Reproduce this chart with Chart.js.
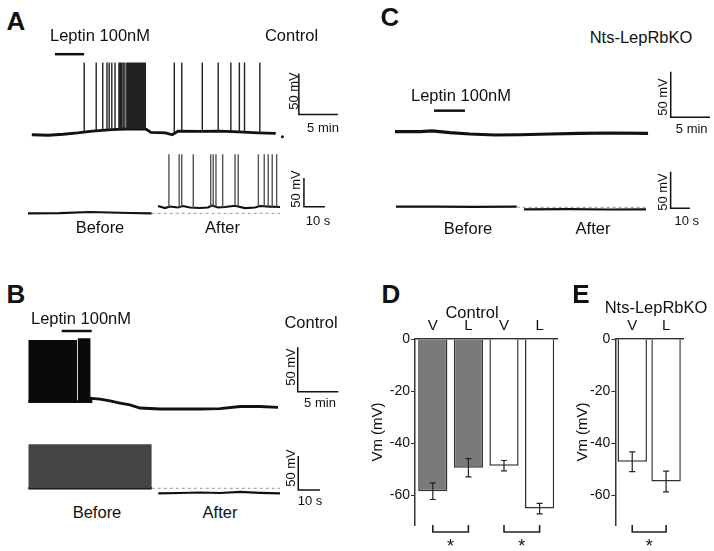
<!DOCTYPE html>
<html lang="en">
<head>
<meta charset="UTF-8" />
<title>Leptin recordings</title>
<script src="https://cdn.jsdelivr.net/npm/chart.js"></script>
<style>
  body { margin: 0; background: #fff; }
  #fig { position: relative; width: 714px; height: 551px; overflow: hidden; font-family: "Liberation Sans", Arial, sans-serif; color: #111; }
  #fig canvas { position: absolute; }
  .lbl { position: absolute; transform: translate(-50%, -50%); white-space: nowrap; line-height: 1; }
  .rot { transform: translate(-50%, -50%) rotate(-90deg); }
</style>
</head>
<body>
<div id="fig">
  <canvas id="aTop"></canvas>
  <canvas id="aBot"></canvas>
  <canvas id="bTop"></canvas>
  <canvas id="bBot"></canvas>
  <canvas id="cTop"></canvas>
  <canvas id="cBot"></canvas>
  <canvas id="dChart"></canvas>
  <canvas id="eChart"></canvas>
</div>

<script>
// ---- A: control, slow trace (min, mV) ----
const aTopT = [0, 2.13, 4.0, 5.88, 7.75, 10.25, 12.75, 14.63, 15.25, 17.13, 18.0, 18.75, 21.5, 24.0, 26.5, 29.0, 31.25];
const aTopV = [-55, -55.6, -54.4, -52.7, -50.5, -48.8, -47.7, -48.2, -52.2, -52.7, -55.0, -50.5, -51.0, -50.5, -51.6, -52.7, -53.3];
const aTopSpikes = [6.71, 8.25, 9.09, 9.63, 9.91, 10.25, 10.66,
  11.17, 11.33, 11.5, 11.71, 11.92, 12.17, 12.33, 12.46, 12.63, 12.79, 12.92, 13.08, 13.25, 13.42, 13.58, 13.71, 13.88, 14.04, 14.21, 14.38, 14.54,
  18.25, 19.21, 21.84, 23.88, 25.5, 26.59, 27.25, 29.21];
const aTopPeak = 33;
const aLeptin = [2.96, 6.71];

// ---- A: control, fast traces (s, mV) ----
const aBeforeT = [0, 15.2, 29.5, 39, 48.6, 58.9];
const aBeforeV = [-55.3, -54.8, -52.7, -53.6, -54.5, -55];
const aAfterT = [61.9, 65.2, 67.6, 71.4, 73.8, 77.1, 81.9, 85.7, 87.6, 90.5, 93.8, 98.6, 103.3, 108.1, 110.5, 115.2, 120];
const aAfterV = [-42.3, -45.8, -43.2, -44.9, -42.3, -44.9, -45.8, -44.9, -41.4, -44.9, -44.0, -41.9, -45.8, -44.9, -42.3, -43.2, -44.0];
const aAfterSpikes = [67.1, 72.0, 73.2, 78.7, 87.0, 88.2, 89.5, 92.7, 98.6, 100.1, 109.7, 112.5, 114.4, 116.3, 118.4];
const aAfterPeak = 47.8;

// ---- B: control, slow trace ----
const bTopT = [0, 7.6, 7.72, 8.83, 10.06, 11.29, 12.52, 13.76, 16.22, 21.15, 23.61, 26.07, 28.53, 30.75];
const bTopV = [-50, -50, -46.2, -47, -49.2, -51.5, -53.7, -57.1, -58.2, -58.2, -57.7, -55.4, -55.4, -56.5];
const bBurstT = [[0, 6.0], [6.07, 7.68]];
const bBurstTop = [19.5, 21.4];
const bLeptin = [4.11, 7.81];

// ---- B: fast traces ----
const bBeforeBurst = [0, 56.9];
const bBeforeTop = 14.7;
const bAfterT = [59.9, 69.9, 79.1, 88.3, 97.6, 106.8, 116.0];
const bAfterV = [-57.6, -56.9, -56.2, -56.9, -55.4, -56.6, -57.4];

// ---- C: Nts-LepRbKO ----
const cTopT = [0, 3.18, 4.7, 7.0, 9.54, 12.7, 15.9, 19.7, 23.5, 27.4, 32.2];
const cTopV = [-48.6, -48.4, -47.6, -49.5, -51.1, -52.2, -51.9, -51.1, -50.5, -50, -50.5];
const cLeptin = [4.96, 8.9];
const cBeforeT = [0, 20, 40, 62.5];
const cBeforeV = [-50, -49.8, -50.2, -50];
const cAfterT = [66.3, 90, 110, 129.5];
const cAfterV = [-53.6, -53.4, -53.8, -53.6];

// ---- D / E: mean Vm ----
const dLabels = ['V', 'L', 'V', 'L'];
const dMeans = [-58.5, -49.5, -48.7, -65.2];
const dErr = [3.2, 3.5, 2, 2];
const dSig = [[0, 1], [2, 3]];
const eLabels = ['V', 'L'];
const eMeans = [-47.2, -54.8];
const eErr = [3.8, 4];
const eSig = [[0, 1]];
const yTicks = [0, -20, -40, -60];

const FONT = '"Liberation Sans", Arial, sans-serif';
Chart.defaults.font.family = FONT;
Chart.defaults.color = '#111';

const fig = document.getElementById('fig');
function label(text, cx, cy, size, extra) {
  const d = document.createElement('div');
  d.className = 'lbl' + (extra && extra.rot ? ' rot' : '');
  d.textContent = text;
  d.style.left = cx + 'px';
  d.style.top = cy + 'px';
  d.style.fontSize = size + 'px';
  if (extra && extra.bold) d.style.fontWeight = 'bold';
  fig.appendChild(d);
}

const pts = (ts, vs) => ts.map((t, i) => ({ x: t, y: vs[i] }));
function interp(ts, vs, t) {
  for (let i = 1; i < ts.length; i++) {
    if (t <= ts[i]) {
      const f = (t - ts[i - 1]) / (ts[i] - ts[i - 1]);
      return vs[i - 1] + f * (vs[i] - vs[i - 1]);
    }
  }
  return vs[vs.length - 1];
}
function spikePts(times, ts, vs, peak) {
  const out = [];
  times.forEach(s => {
    out.push({ x: s, y: interp(ts, vs, s) }, { x: s, y: peak }, { x: s, y: null });
  });
  return out;
}
function line(data, color, width, dash) {
  return { data, borderColor: color, borderWidth: width, borderDash: dash || [], fill: false, pointRadius: 0, spanGaps: false };
}
function scaleBar(t0, v0, dt, dv) {
  return line([{ x: t0, y: v0 + dv }, { x: t0, y: v0 }, { x: t0 + dt, y: v0 }], '#111', 1.5);
}
function block(t0, t1, top, bottom, color) {
  return { data: [{ x: t0, y: top }, { x: t1, y: top }], borderWidth: 0, pointRadius: 0, fill: { value: bottom }, backgroundColor: color };
}

// box = canvas rect on page; g = pixel of (t=0, v=vRef) and pixels per unit
function trace(id, box, g, datasets) {
  const c = document.getElementById(id);
  c.width = box[2]; c.height = box[3];
  c.style.left = box[0] + 'px'; c.style.top = box[1] + 'px';
  const xmin = (box[0] - g.px) / g.xppu;
  const xmax = (box[0] + box[2] - g.px) / g.xppu;
  const ymax = g.vRef + (g.py - box[1]) / g.yppu;
  const ymin = g.vRef - (box[1] + box[3] - g.py) / g.yppu;
  new Chart(c, {
    type: 'line',
    data: { datasets },
    options: {
      responsive: false, animation: false, events: [],
      layout: { padding: 0 },
      plugins: { legend: { display: false }, tooltip: { enabled: false } },
      elements: { line: { tension: 0, borderCapStyle: 'butt' } },
      scales: {
        x: { type: 'linear', display: false, min: xmin, max: xmax },
        y: { type: 'linear', display: false, min: ymin, max: ymax }
      }
    }
  });
}

// A
trace('aTop', [20, 40, 330, 108], { px: 28, py: 138, vRef: -55, xppu: 8, yppu: 0.886 }, [
  line(spikePts(aTopSpikes, aTopT, aTopV, aTopPeak), '#222', 1.4),
  line(pts(aTopT, aTopV), '#111', 2.8),
  line([{ x: aLeptin[0], y: 43.2 }, { x: aLeptin[1], y: 43.2 }], '#111', 2.5),
  { data: [{ x: 32.1, y: -57.3 }], showLine: false, pointRadius: 1.5, pointBackgroundColor: '#111', pointBorderWidth: 0 },
  scaleBar(34.21, -30.2, 5, 50)
]);
trace('aBot', [20, 148, 320, 72], { px: 28, py: 213.3, vRef: -55, xppu: 2.1, yppu: 0.574 }, [
  line([{ x: 58.9, y: -55 }, { x: 120, y: -55 }], '#9a9a9a', 1, [3, 3]),
  line(spikePts(aAfterSpikes, aAfterT, aAfterV, aAfterPeak), '#555', 1.4),
  line(pts(aBeforeT, aBeforeV), '#111', 2.2),
  line(pts(aAfterT, aAfterV), '#111', 2.2),
  scaleBar(131.4, -43.5, 10, 50)
]);

// B
trace('bTop', [20, 325, 330, 95], { px: 28.3, py: 401.7, vRef: -50, xppu: 8.12, yppu: 0.888 }, [
  block(bBurstT[0][0], bBurstT[0][1], bBurstTop[0], -50, '#0a0a0a'),
  block(bBurstT[1][0], bBurstT[1][1], bBurstTop[1], -50, '#0a0a0a'),
  line(pts(bTopT, bTopV), '#111', 2.8),
  line([{ x: bLeptin[0], y: 29.6 }, { x: bLeptin[1], y: 29.6 }], '#111', 2.5),
  scaleBar(33.18, -38.7, 5, 50)
]);
trace('bBot', [20, 438, 320, 64], { px: 28.3, py: 488.3, vRef: -50, xppu: 2.17, yppu: 0.68 }, [
  block(bBeforeBurst[0], bBeforeBurst[1], bBeforeTop, -50, '#444'),
  line([{ x: bBeforeBurst[0], y: -50 }, { x: bBeforeBurst[1], y: -50 }], '#111', 2.5),
  line([{ x: 56.9, y: -50 }, { x: 116, y: -50 }], '#9a9a9a', 1, [3, 3]),
  line(pts(bAfterT, bAfterV), '#111', 2.2),
  scaleBar(124.4, -52.5, 10, 50)
]);

// C
trace('cTop', [385, 65, 329, 80], { px: 395, py: 133, vRef: -50, xppu: 7.86, yppu: 0.912 }, [
  line(pts(cTopT, cTopV), '#111', 3.2),
  line([{ x: cLeptin[0], y: -25.5 }, { x: cLeptin[1], y: -25.5 }], '#111', 2.5),
  scaleBar(35.08, -32.8, 5, 50)
]);
trace('cBot', [385, 165, 329, 50], { px: 396, py: 206.7, vRef: -50, xppu: 1.93, yppu: 0.732 }, [
  line([{ x: 62.5, y: -50.8 }, { x: 129.5, y: -50.8 }], '#9a9a9a', 1, [3, 3]),
  line(pts(cBeforeT, cBeforeV), '#111', 2.2),
  line(pts(cAfterT, cAfterV), '#111', 2.2),
  scaleBar(142.3, -52.2, 10, 50)
]);

// D / E bar charts
const errorBars = {
  id: 'errorBars',
  afterDatasetsDraw(chart, args, o) {
    const ctx = chart.ctx, ys = chart.scales.y, meta = chart.getDatasetMeta(0);
    ctx.save();
    ctx.strokeStyle = '#222';
    ctx.lineWidth = 1.2;
    o.means.forEach((m, i) => {
      const x = meta.data[i].x;
      const y1 = ys.getPixelForValue(m - o.errs[i]), y2 = ys.getPixelForValue(m + o.errs[i]);
      ctx.beginPath();
      ctx.moveTo(x, y1); ctx.lineTo(x, y2);
      ctx.moveTo(x - 3, y1); ctx.lineTo(x + 3, y1);
      ctx.moveTo(x - 3, y2); ctx.lineTo(x + 3, y2);
      ctx.stroke();
    });
    const b = chart.chartArea.bottom;
    ctx.lineWidth = 1.6;
    ctx.fillStyle = '#111';
    ctx.font = '18px ' + FONT;
    ctx.textAlign = 'center';
    ctx.textBaseline = 'middle';
    o.pairs.forEach(([i, j]) => {
      const x1 = meta.data[i].x, x2 = meta.data[j].x;
      ctx.beginPath();
      ctx.moveTo(x1, b); ctx.lineTo(x1, b + 7); ctx.lineTo(x2, b + 7); ctx.lineTo(x2, b);
      ctx.stroke();
      ctx.fillText('*', (x1 + x2) / 2, b + 22);
    });
    ctx.restore();
  }
};

function barChart(id, box, axisW, padRight, labels, means, errs, pairs, fills, barPct) {
  const c = document.getElementById(id);
  c.width = box[2]; c.height = box[3];
  c.style.left = box[0] + 'px'; c.style.top = box[1] + 'px';
  new Chart(c, {
    type: 'bar',
    data: {
      labels,
      datasets: [{
        data: means,
        backgroundColor: fills,
        borderColor: '#333',
        borderWidth: 1.5,
        barPercentage: barPct,
        categoryPercentage: 1
      }]
    },
    options: {
      responsive: false, animation: false, events: [],
      layout: { padding: { left: 0, right: padRight, top: 0, bottom: 26 } },
      plugins: { legend: { display: false }, tooltip: { enabled: false }, errorBars: { means, errs, pairs } },
      scales: {
        x: {
          position: 'top',
          grid: { display: false, drawTicks: false },
          border: { display: true, color: '#333', width: 1.5 },
          ticks: { padding: 4, font: { size: 15 }, color: '#111' },
          afterFit: s => { s.height = 21; }
        },
        y: {
          min: -71.5, max: 0,
          grid: { display: true, drawOnChartArea: false, drawTicks: true, tickLength: 4, color: '#333' },
          border: { display: true, color: '#333', width: 1.5 },
          ticks: { stepSize: 20, includeBounds: false, padding: 1, font: { size: 14 }, color: '#111' },
          title: { display: true, text: 'Vm (mV)', font: { size: 15 }, color: '#111', padding: { top: 9, bottom: 0 } },
          afterBuildTicks: s => { s.ticks = yTicks.map(v => ({ value: v })); },
          afterFit: s => { s.width = axisW; }
        }
      }
    },
    plugins: [errorBars]
  });
}

barChart('dChart', [360, 318, 205, 233], 55, 7.6, dLabels, dMeans, dErr, dSig,
  ['#7a7a7a', '#7a7a7a', '#ffffff', '#ffffff'], 0.82);
barChart('eChart', [565, 318, 149, 233], 50.3, 31, eLabels, eMeans, eErr, eSig,
  ['#ffffff', '#ffffff'], 0.87);

// text
label('A', 16, 21, 26, { bold: true });
label('Leptin 100nM', 100, 35, 16.5);
label('Control', 291.5, 35, 16.5);
label('50 mV', 292.5, 91, 13, { rot: true });
label('5 min', 323, 127, 13);
label('50 mV', 294.7, 189, 13, { rot: true });
label('10 s', 318, 220, 13);
label('Before', 100, 227, 16.5);
label('After', 222.5, 227, 16.5);

label('B', 16, 294, 26, { bold: true });
label('Leptin 100nM', 81, 318, 16.5);
label('Control', 311, 322, 16.5);
label('50 mV', 290, 367, 13, { rot: true });
label('5 min', 320, 402, 13);
label('50 mV', 290, 468, 13, { rot: true });
label('10 s', 310, 500, 13);
label('Before', 97, 512, 16.5);
label('After', 220, 512, 16.5);

label('C', 390, 17, 26, { bold: true });
label('Nts-LepRbKO', 641, 37, 16.5);
label('Leptin 100nM', 461, 95, 16.5);
label('50 mV', 661.7, 97, 13, { rot: true });
label('5 min', 691.7, 128, 13);
label('50 mV', 661.7, 192, 13, { rot: true });
label('10 s', 686.7, 220, 13);
label('Before', 468, 228, 16.5);
label('After', 593, 228, 16.5);

label('D', 391, 294, 26, { bold: true });
label('Control', 472, 312, 16.5);
label('E', 581, 294, 26, { bold: true });
label('Nts-LepRbKO', 656, 307, 16.5);
</script>
</body>
</html>
